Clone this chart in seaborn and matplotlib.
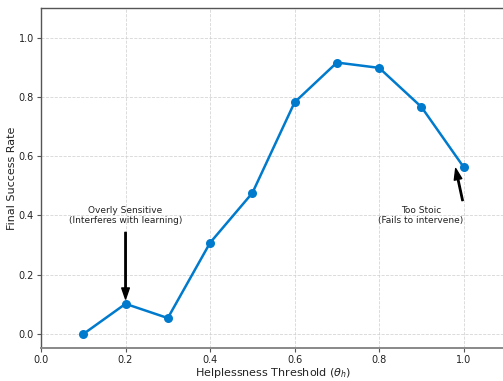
import matplotlib
matplotlib.use("Agg")
import matplotlib.pyplot as plt
import seaborn as sns
import pandas as pd

thresholds = [0.1, 0.2, 0.3, 0.4, 0.5, 0.6, 0.7, 0.8, 0.9, 1.0]
success = [0.0, 0.102, 0.054, 0.308, 0.476, 0.782, 0.916, 0.898, 0.766, 0.563]
x_ticks = [0.0, 0.2, 0.4, 0.6, 0.8, 1.0]
y_ticks = [0.0, 0.2, 0.4, 0.6, 0.8, 1.0]

df = pd.DataFrame({"threshold": thresholds, "success": success})

sns.set_theme(style="white")
plt.rcParams["font.family"] = ["DejaVu Sans"]

fig = plt.figure(figsize=(5.03, 3.81), dpi=100)
ax = fig.add_axes([41 / 503, 33 / 381, 465 / 503, 340 / 381])

sns.lineplot(data=df, x="threshold", y="success", ax=ax, color="#007ACC",
             linewidth=1.8, marker="o", markersize=6.5, markeredgewidth=0)

ax.set_xlim(0.0, 1.1)
ax.set_ylim(-0.047, 1.1)
ax.set_xticks(x_ticks)
ax.set_yticks(y_ticks)
ax.set_xticklabels([f"{v:.1f}" for v in x_ticks], fontsize=7, color="#222222")
ax.set_yticklabels([f"{v:.1f}" for v in y_ticks], fontsize=7, color="#222222")
ax.tick_params(axis="both", which="both", length=3, width=0.8, color="#555555",
               bottom=True, left=True, pad=2)
ax.grid(True, linestyle="--", color="#cccccc", linewidth=0.6, alpha=0.8)
ax.set_xlabel(r"Helplessness Threshold ($\theta_h$)", fontsize=8, color="#222222", labelpad=1)
ax.set_ylabel("Final Success Rate", fontsize=8, color="#222222", labelpad=1)

for side in ["left", "bottom", "top", "right"]:
    ax.spines[side].set_color("#555555")
    ax.spines[side].set_linewidth(1.0)
ax.spines["bottom"].set_color("#888888")
ax.spines["bottom"].set_linewidth(1.4)

ax.annotate("Overly Sensitive\n(Interferes with learning)", xy=(0.2, 0.105),
            xytext=(0.2, 0.4), ha="center", va="center", multialignment="center",
            fontsize=6.5, color="#222222",
            arrowprops=dict(facecolor="black", edgecolor="black", shrink=0.05,
                            width=1, headwidth=5.5, headlength=8))
ax.annotate("Too Stoic\n(Fails to intervene)", xy=(0.98, 0.565),
            xytext=(1.0, 0.4), ha="right", va="center", multialignment="center",
            fontsize=6.5, color="#222222",
            arrowprops=dict(facecolor="black", edgecolor="black", shrink=0.05,
                            width=1, headwidth=5.5, headlength=8))

fig.savefig("out.png", dpi=100)
